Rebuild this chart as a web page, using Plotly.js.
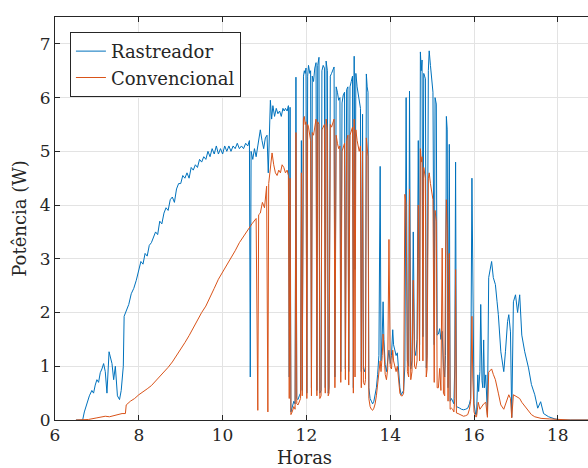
<!DOCTYPE html>
<html>
<head>
<meta charset="utf-8">
<script src="https://cdn.plot.ly/plotly-3.0.1.min.js"></script>
<style>html,body{margin:0;padding:0;background:#fff;overflow:hidden;}#chart{width:588px;height:468px;}</style>
</head>
<body>
<div id="chart"></div>
<script>
// ---------- Data (hours, power in W) ----------
// Rastreador (tracker), morning until the clouds
const tRMorning = [
6.50,6.66,6.70,6.76,6.82,6.88,6.92,6.96,7.00,7.04,
7.08,7.12,7.16,7.20,7.24,7.29,7.33,7.36,7.40,7.44,
7.49,7.54,7.58,7.61,7.63,7.65,7.70,7.76,7.82,7.88,
7.94,8.00,8.05,8.10,8.15,8.20,8.25,8.30,8.35,8.40,
8.45,8.50,8.55,8.60,8.65,8.70,8.75,8.80,8.85,8.90,
8.95,9.00,9.05,9.10,9.15,9.20,9.25,9.30,9.35,9.40,
9.45,9.50,9.55,9.60,9.65,9.70,9.75,9.80,9.85,9.90,
9.95,10.00,10.05,10.10,10.15,10.20,10.25,10.30,10.35,10.40,
10.45,10.50,10.55,10.60,10.64,10.66,10.68,10.72,10.76,10.80,
10.84,10.88,10.90,10.94,10.98,11.02,11.06,11.09,11.12,11.14,
11.17,11.20,11.24,11.28,11.32,11.36,11.40,11.44,11.47];
const pRMorning = [
0,0,0.15,0.32,0.45,0.55,0.50,0.65,0.75,0.70,
0.88,0.95,1.05,0.90,0.50,1.27,1.15,1.05,0.75,1.00,
0.45,0.38,0.55,0.93,1.00,1.93,2.05,2.15,2.35,2.45,
2.60,2.80,2.95,2.90,3.10,3.05,3.25,3.30,3.40,3.50,
3.45,3.70,3.65,3.85,3.95,3.90,4.10,4.15,4.05,4.30,
4.40,4.40,4.55,4.50,4.60,4.50,4.70,4.65,4.75,4.70,
4.85,4.80,4.90,4.85,5.00,4.90,5.05,4.95,5.10,4.95,
5.05,4.95,5.10,5.00,5.10,5.00,5.10,5.05,5.15,5.05,
5.10,5.05,5.15,5.10,5.20,0.80,5.00,4.85,5.05,4.90,
5.10,5.30,5.40,5.20,5.05,5.25,5.30,4.60,5.60,5.95,
5.60,5.85,5.65,5.80,5.70,5.75,5.65,5.80,5.75];

// Convencional (fixed), morning until the clouds
const tCMorning = [
6.50,6.80,7.00,7.10,7.20,7.30,7.40,7.50,7.60,7.68,
7.70,7.80,7.90,8.00,8.10,8.20,8.30,8.40,8.50,8.60,
8.70,8.80,8.90,9.00,9.10,9.20,9.30,9.40,9.50,9.60,
9.70,9.80,9.90,10.00,10.10,10.20,10.30,10.40,10.50,10.60,
10.70,10.80,10.84,10.86,10.90,10.95,11.00,11.05,11.08,11.10,
11.14,11.18,11.22,11.26,11.30,11.34,11.38,11.42,11.46];
const pCMorning = [
0,0.01,0.04,0.05,0.07,0.06,0.08,0.10,0.12,0.12,
0.28,0.35,0.40,0.47,0.52,0.58,0.64,0.72,0.80,0.88,
0.98,1.08,1.20,1.30,1.44,1.57,1.72,1.85,2.00,2.12,
2.30,2.45,2.62,2.75,2.90,3.02,3.15,3.30,3.42,3.55,
3.65,3.75,0.18,3.82,3.85,4.05,3.95,4.35,0.15,4.40,
4.70,4.97,4.75,4.60,4.55,4.65,4.60,4.75,4.70];

// Cloudy period (shared time stamps)
const tCloud = [
11.50,11.54,11.57,11.59,11.61,11.63,11.66,11.70,11.73,11.75,
11.77,11.80,11.83,11.86,11.88,11.90,11.93,11.95,11.97,11.99,
12.01,12.03,12.05,12.08,12.10,12.12,12.14,12.17,12.20,12.23,
12.25,12.27,12.30,12.32,12.35,12.37,12.40,12.43,12.45,12.47,
12.50,12.52,12.54,12.57,12.60,12.63,12.66,12.68,12.71,12.74,
12.77,12.80,12.82,12.85,12.88,12.91,12.93,12.96,12.99,13.01,
13.04,13.07,13.10,13.12,13.14,13.16,13.18,13.21,13.24,13.26,
13.29,13.31,13.34,13.36,13.39,13.41,13.43,13.45,13.47,13.49,
13.52,13.55,13.58,13.61,13.64,13.67,13.70,13.73,13.76,13.78,
13.81,13.83,13.85,13.88,13.91,13.94,13.97,14.00,14.03,14.06,
14.08,14.11,14.14,14.17,14.20,14.23,14.26,14.29,14.32,14.35,
14.38,14.41,14.44,14.46,14.49,14.52,14.55,14.58,14.61,14.64,
14.67,14.70,14.72,14.74,14.76,14.78,14.80,14.82,14.84,14.86,
14.88,14.91,14.93,14.96,14.99,15.02,15.05,15.07,15.10,15.12,
15.15,15.18,15.21,15.24,15.27,15.30,15.32,15.34,15.36,15.38,
15.41,15.43,15.46,15.49,15.52,15.54,15.56,15.58,15.62,15.66,
15.70,15.75,15.80,15.85,15.89,15.92,15.95,15.97,16.00,16.04];
const pRCloud = [
5.80,5.75,5.85,0.80,5.82,0.15,0.25,0.35,0.30,6.38,
0.40,0.38,0.45,0.50,5.20,0.55,6.40,6.50,6.45,6.55,
0.50,6.40,6.60,6.45,6.50,0.60,6.40,6.30,6.55,6.65,
0.55,6.60,6.75,0.50,0.55,6.50,6.60,6.55,0.60,6.68,
6.50,0.50,0.60,6.40,6.45,6.50,6.57,0.80,6.20,6.10,
5.95,6.00,0.90,5.90,6.05,6.10,0.95,6.15,6.20,0.90,
6.20,6.30,6.40,0.60,6.77,2.80,6.45,6.20,6.05,5.97,
5.80,0.90,5.69,0.95,0.90,1.00,6.44,6.20,6.10,0.60,
0.40,0.35,0.30,0.35,0.45,0.60,0.85,1.20,4.72,1.10,
1.60,2.20,1.50,1.03,0.90,1.10,1.30,1.05,1.20,1.68,
1.40,1.30,1.20,1.25,0.90,0.60,0.47,0.50,0.55,1.00,
6.00,1.10,1.00,6.12,0.95,1.10,3.50,1.30,1.20,1.50,
5.20,1.40,6.85,6.50,6.70,1.55,6.45,6.40,6.35,0.97,
1.20,6.50,6.87,6.60,6.30,6.10,1.40,6.00,5.88,1.58,
1.60,1.70,1.50,1.65,1.00,0.80,1.20,5.65,5.40,0.60,
5.13,0.35,0.40,0.33,0.30,1.00,4.80,0.25,0.24,0.22,
0.20,0.19,0.20,0.22,0.30,0.40,4.50,2.00,0.30,0.10];
const pCCloud = [
4.60,4.65,4.55,0.40,4.50,0.10,0.15,0.25,0.20,5.35,
0.30,0.28,0.35,0.40,4.60,0.45,5.60,5.65,5.50,5.55,
0.40,5.50,5.45,5.30,5.20,0.45,5.35,5.30,5.50,5.60,
0.45,5.55,5.50,0.40,0.45,5.40,5.45,5.50,0.50,5.60,
5.40,0.45,0.50,5.50,5.45,5.55,5.60,0.60,5.30,5.15,
5.05,5.10,0.70,5.00,5.10,5.15,0.75,5.20,5.30,0.65,
5.30,5.40,5.45,0.50,5.60,0.80,5.40,5.20,5.05,5.00,
5.10,0.60,5.00,0.70,0.65,0.75,5.25,5.10,4.90,0.40,
0.25,0.20,0.18,0.22,0.30,0.45,0.70,0.95,1.10,0.90,
1.20,1.60,1.20,0.85,0.75,0.95,3.36,1.00,0.95,1.30,
1.10,1.00,0.90,1.00,0.70,0.50,0.45,0.45,0.50,4.20,
4.00,0.90,0.80,4.30,0.75,0.90,2.60,1.00,0.95,1.10,
4.00,1.10,5.05,4.80,4.90,1.10,4.70,4.60,4.50,0.80,
0.95,4.50,4.60,4.40,4.20,4.10,0.70,3.90,3.70,0.60,
0.60,0.96,0.55,3.20,0.50,0.45,3.00,4.10,3.60,0.35,
3.10,0.20,0.22,0.20,0.15,0.40,2.80,0.13,0.12,0.10,
0.08,0.07,0.08,0.10,0.20,0.35,1.93,0.80,0.15,0.06];

// Late afternoon
const tREvening = [
16.06,16.09,16.11,16.14,16.16,16.19,16.21,16.23,16.25,16.28,
16.30,16.32,16.35,16.38,16.42,16.46,16.51,16.55,16.58,16.64,
16.71,16.75,16.80,16.83,16.87,16.90,16.94,16.99,17.04,17.09,
17.14,17.21,17.30,17.37,17.45,17.52,17.59,17.66,17.78,17.93,
18.10,18.72];
const pREvening = [
0.10,0.84,0.53,0.90,2.15,0.73,0.60,1.49,0.60,0.84,
0.50,0.09,2.65,2.80,2.95,2.65,2.52,2.20,1.96,1.27,
0.90,1.27,1.83,1.96,1.64,0.05,2.20,2.33,2.00,2.33,
1.58,1.27,0.97,0.66,0.47,0.22,0.34,0.12,0.06,0.02,
0,0];
const tCEvening = [
16.06,16.10,16.14,16.19,16.23,16.28,16.32,16.35,16.42,16.46,
16.51,16.58,16.64,16.71,16.75,16.80,16.83,16.87,16.90,16.94,
16.99,17.09,17.14,17.21,17.30,17.37,17.45,17.60,17.80,18.00,
18.30,18.72];
const pCEvening = [
0.06,0.33,0.20,0.26,0.30,0.33,0.05,0.89,0.95,0.85,
0.75,0.50,0.28,0.20,0.30,0.41,0.47,0.40,0.04,0.47,
0.45,0.40,0.33,0.26,0.16,0.10,0.06,0.03,0.02,0.01,
0,0];

const seriesNames = ['Rastreador', 'Convencional'];
const xTicks = [6, 8, 10, 12, 14, 16, 18];
const yTicks = [0, 1, 2, 3, 4, 5, 6, 7];

// ---------- Build traces ----------
const serif = "'DejaVu Serif', 'Liberation Serif', serif";
const ink = '#262626';

const traces = [
  {
    x: tRMorning.concat(tCloud, tREvening),
    y: pRMorning.concat(pRCloud, pREvening),
    type: 'scatter', mode: 'lines', name: seriesNames[0],
    line: {color: '#0072BD', width: 1}
  },
  {
    x: tCMorning.concat(tCloud, tCEvening),
    y: pCMorning.concat(pCCloud, pCEvening),
    type: 'scatter', mode: 'lines', name: seriesNames[1],
    line: {color: '#D95319', width: 1}
  }
];

const axisCommon = {
  showline: true, linecolor: ink, linewidth: 1,
  ticks: 'inside', ticklen: 5, tickcolor: ink, tickwidth: 1,
  showgrid: true, gridcolor: '#e3e3e3', gridwidth: 1,
  zeroline: false,
  tickfont: {family: serif, size: 17, color: ink}
};

const layout = {
  width: 588, height: 468,
  margin: {l: 55, r: 0, t: 17, b: 48},
  paper_bgcolor: '#ffffff', plot_bgcolor: '#ffffff',
  font: {family: serif, color: ink},
  showlegend: true,
  xaxis: Object.assign({}, axisCommon, {
    range: [6, 18.72], tickvals: xTicks, mirror: 'ticks'
  }),
  yaxis: Object.assign({}, axisCommon, {
    range: [0, 7.5], tickvals: yTicks,
    title: {text: 'Potência (W)', font: {family: serif, size: 18, color: ink}, standoff: 8}
  }),
  legend: {
    x: 0.028, y: 0.963, xanchor: 'left', yanchor: 'top',
    bgcolor: '#ffffff', bordercolor: ink, borderwidth: 1,
    font: {family: serif, size: 18, color: ink},
    tracegroupgap: 0
  },
  annotations: [{
    text: 'Horas', xref: 'paper', yref: 'paper', x: 0.469, y: -0.094,
    xanchor: 'center', yanchor: 'middle', showarrow: false,
    font: {family: serif, size: 18, color: ink}
  }]
};

Plotly.newPlot('chart', traces, layout, {displayModeBar: false, staticPlot: true});
</script>
</body>
</html>
